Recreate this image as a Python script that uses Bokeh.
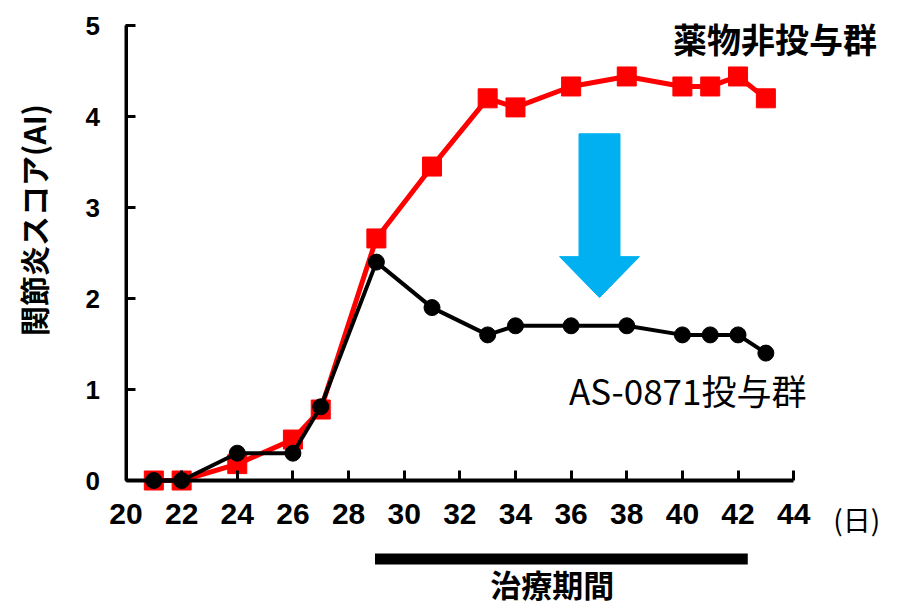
import math
from bokeh.plotting import figure
from bokeh.models import LinearAxis, FixedTicker, ColumnDataSource
from bokeh.core.properties import value
from bokeh.embed import file_html
from bokeh.resources import INLINE

# ---- data ----
days = [21, 22, 24, 26, 27, 29, 31, 33, 34, 36, 38, 40, 41, 42, 43]
score_untreated = [0, 0, 0.18, 0.45, 0.78, 2.66, 3.45, 4.2, 4.1, 4.33, 4.44, 4.33, 4.33, 4.44, 4.2]
score_as0871 = [0, 0, 0.3, 0.3, 0.81, 2.4, 1.9, 1.6, 1.7, 1.7, 1.7, 1.6, 1.6, 1.6, 1.4]
x_ticks = [20, 22, 24, 26, 28, 30, 32, 34, 36, 38, 40, 42, 44]
y_ticks = [0, 1, 2, 3, 4, 5]
treatment_start = 28.95
treatment_end = 42.35

label_untreated = "薬物非投与群"
label_as0871 = "AS-0871投与群"
y_title = "関節炎スコア(AI)"
x_unit = "(日)"
treatment_label = "治療期間"

# ---- layout ----
W, H = 897, 608
AXIS_X_PX = 125.5      # pixel column of day 20
AXIS_Y_PX = 480.0      # pixel row of score 0
PX_DAY = 27.82
PX_UNIT = 91.0
x_start = 20 - AXIS_X_PX / PX_DAY
x_end = x_start + W / PX_DAY
y_end = (AXIS_Y_PX) / PX_UNIT
y_start = y_end - H / PX_UNIT

CJK = "Noto Sans CJK JP"
NUM = "Liberation Sans"

p = figure(width=W, height=H, x_range=(x_start, x_end), y_range=(y_start, y_end),
           output_backend="svg", toolbar_location=None,
           x_axis_location=None, y_axis_location=None,
           min_border_left=0, min_border_right=0,
           min_border_top=0, min_border_bottom=0)
p.outline_line_color = None
p.grid.visible = False

X0 = x_ticks[0]
xaxis = LinearAxis(fixed_location=0, bounds=(x_ticks[0], x_ticks[-1]), ticker=FixedTicker(ticks=x_ticks))
yaxis = LinearAxis(fixed_location=X0, bounds=(y_ticks[0], y_ticks[-1]), ticker=FixedTicker(ticks=y_ticks))
for ax in (xaxis, yaxis):
    ax.axis_line_color = "black"
    ax.major_tick_line_color = "black"
    ax.major_tick_line_width = 3
    ax.minor_tick_line_color = None
    ax.major_label_text_font = NUM
    ax.major_label_text_font_style = "bold"
    ax.major_label_text_color = "black"
xaxis.axis_line_width = 4
yaxis.axis_line_width = 3
xaxis.major_tick_in = 10
xaxis.major_tick_out = 0
xaxis.major_label_text_font_size = "30px"
xaxis.major_label_standoff = 23
yaxis.major_tick_in = 9
yaxis.major_tick_out = 1
yaxis.major_label_text_font_size = "26px"
yaxis.major_label_standoff = 25
p.add_layout(xaxis, "below")
p.add_layout(yaxis, "left")

# vertical axis rule and inward ticks, drawn on top through the data scales
p.segment(x0=[X0], y0=[y_ticks[0]], x1=[X0], y1=[y_ticks[-1]], line_color="black",
          line_width=3, level="overlay")
p.segment(x0=[X0] * len(y_ticks), y0=y_ticks, x1=[X0 + 9 / PX_DAY] * len(y_ticks), y1=y_ticks,
          line_color="black", line_width=3, level="overlay")

# treatment bar
p.segment(x0=[treatment_start], y0=[-0.863], x1=[treatment_end], y1=[-0.863],
          line_color="black", line_width=11, line_cap="butt")

# arrow (annotation shape)
ARROW_CX = 37.02
SHAFT_HW = 0.736
HEAD_HW = 1.436
ARROW_TOP = 3.81
ARROW_NECK = 2.46
ARROW_TIP = 2.01
ax_ = [ARROW_CX - SHAFT_HW, ARROW_CX + SHAFT_HW, ARROW_CX + SHAFT_HW, ARROW_CX + HEAD_HW,
       ARROW_CX, ARROW_CX - HEAD_HW, ARROW_CX - SHAFT_HW]
ay_ = [ARROW_TOP, ARROW_TOP, ARROW_NECK, ARROW_NECK, ARROW_TIP, ARROW_NECK, ARROW_NECK]
p.patch(ax_, ay_, fill_color="#00B0F0", line_color="#00B0F0", line_width=1)

src = ColumnDataSource(dict(day=days, ctrl=score_untreated, tx=score_as0871))
p.line("day", "ctrl", source=src, line_color="#FF0000", line_width=5)
p.scatter("day", "ctrl", source=src, marker="square", size=19, fill_color="#FF0000", line_color="#FF0000")
p.line("day", "tx", source=src, line_color="black", line_width=4)
p.scatter("day", "tx", source=src, marker="circle", size=16, fill_color="black", line_color="black")

p.text(x=[43.33], y=[4.857], text=[label_untreated], text_font=value(CJK), text_font_style="bold",
       text_font_size="34px", text_align="center", text_baseline="middle", text_color="black")
p.text(x=[40.19], y=[1.0], text=[label_as0871], text_font=value(CJK), text_font_style="normal",
       text_font_size="35px", text_align="center", text_baseline="middle", text_color="black")
p.text(x=[46.27], y=[-0.418], text=[x_unit], text_font=value(CJK), text_font_style="normal",
       text_font_size="28px", text_align="center", text_baseline="middle", text_color="black")
p.text(x=[35.32], y=[-1.135], text=[treatment_label], text_font=value(CJK), text_font_style="bold",
       text_font_size="31px", text_align="center", text_baseline="middle", text_color="black")
p.text(x=[20 + (32.5 - AXIS_X_PX) / PX_DAY], y=[(AXIS_Y_PX - 219.5) / PX_UNIT], text=[y_title],
       angle=math.pi / 2, text_font=value(CJK), text_font_style="bold",
       text_font_size="30px", text_align="center", text_baseline="middle", text_color="black")

open("out.html", "w").write(file_html(p, INLINE))
